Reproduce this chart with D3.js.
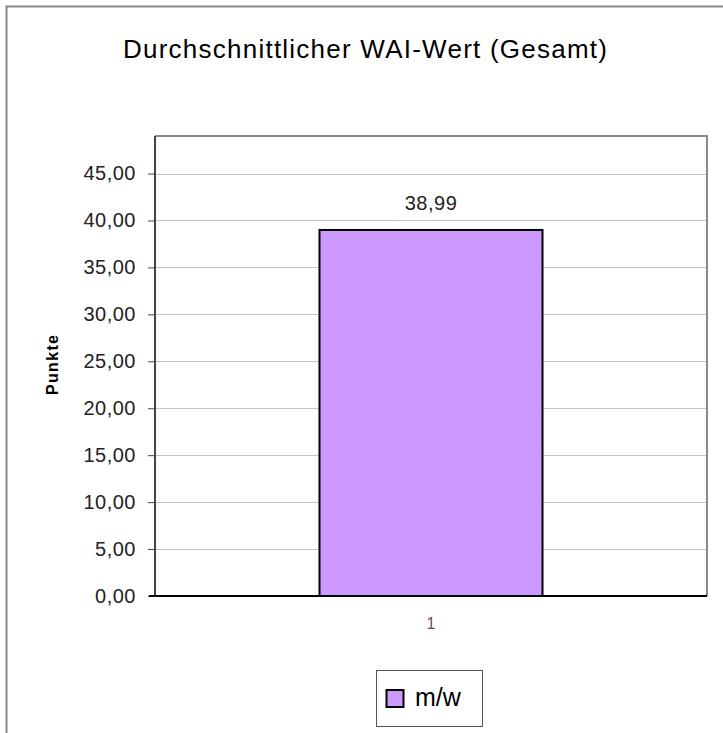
<!DOCTYPE html>
<html>
<head>
<meta charset="utf-8">
<script src="https://cdn.jsdelivr.net/npm/d3@7"></script>
<style>
  body { margin: 0; background: #fff; }
  svg { display: block; }
</style>
</head>
<body>
<svg class="chart" width="723" height="733"></svg>
<script>
// chart data
var categories = ["1"];
var values = [38.99];
var seriesName = "m/w";
var yTicks = [0, 5, 10, 15, 20, 25, 30, 35, 40, 45];
var yMax = 49;

var svg = d3.select(".chart");
var font = "Arial, 'Liberation Sans', sans-serif";
var fmt = function (v) { return d3.format(".2f")(v).replace(".", ","); };

// outer chart border (runs off the right and bottom of the picture)
svg.append("rect")
    .attr("x", 6.5).attr("y", 6.5)
    .attr("width", 760).attr("height", 760)
    .attr("fill", "#fff")
    .attr("stroke", "#888")
    .attr("stroke-width", 2);

svg.append("text")
    .attr("x", 123)
    .attr("y", 58)
    .attr("font-family", font)
    .attr("font-size", "26px")
    .attr("textLength", 484)
    .attr("lengthAdjust", "spacing")
    .attr("fill", "#000")
    .text("Durchschnittlicher WAI-Wert (Gesamt)");

var plot = { left: 155, top: 136, right: 707, bottom: 596 };

var x = d3.scaleBand()
    .domain(categories)
    .range([plot.left, plot.right])
    .paddingInner(0.596)
    .paddingOuter(0.294);

var y = d3.scaleLinear()
    .domain([0, yMax])
    .range([plot.bottom, plot.top]);

// gridlines
svg.selectAll(".grid")
    .data(yTicks.filter(function (d) { return d > 0; }))
    .enter().append("line")
    .attr("class", "grid")
    .attr("x1", plot.left).attr("x2", plot.right)
    .attr("y1", function (d) { return Math.round(y(d)) + 0.5; })
    .attr("y2", function (d) { return Math.round(y(d)) + 0.5; })
    .attr("stroke", "#c4c4c4")
    .attr("stroke-width", 1);

// plot area top + right border
svg.append("path")
    .attr("d", "M" + plot.left + "," + plot.top + "H" + plot.right + "V" + plot.bottom)
    .attr("fill", "none")
    .attr("stroke", "#888")
    .attr("stroke-width", 2);

// bar
svg.selectAll(".bar")
    .data(values)
    .enter().append("rect")
    .attr("class", "bar")
    .attr("x", function (d, i) { return x(categories[i]); })
    .attr("y", function (d) { return y(d); })
    .attr("width", x.bandwidth())
    .attr("height", function (d) { return plot.bottom - y(d); })
    .attr("fill", "#CC99FF")
    .attr("stroke", "#000")
    .attr("stroke-width", 2);

// value label
svg.selectAll(".val")
    .data(values)
    .enter().append("text")
    .attr("class", "val")
    .attr("x", function (d, i) { return x(categories[i]) + x.bandwidth() / 2; })
    .attr("y", function (d) { return y(d) - 20; })
    .attr("text-anchor", "middle")
    .attr("font-family", font)
    .attr("font-size", "20px")
    .attr("letter-spacing", "0.5px")
    .attr("fill", "#222")
    .text(function (d) { return fmt(d); });

// y axis
var yAxis = svg.append("g")
    .attr("transform", "translate(" + plot.left + ",0)")
    .call(d3.axisLeft(y).tickValues(yTicks).tickSize(7).tickPadding(12).tickFormat(fmt));
yAxis.select(".domain")
    .attr("d", "M0," + plot.top + "V" + plot.bottom)
    .attr("stroke", "#444")
    .attr("stroke-width", 2);
yAxis.selectAll(".tick line").attr("stroke", "#444");
yAxis.selectAll("text")
    .attr("font-family", font)
    .attr("font-size", "20px")
    .attr("letter-spacing", "0.5px")
    .attr("fill", "#222");

// x axis
var xAxis = svg.append("g")
    .attr("transform", "translate(0," + plot.bottom + ")")
    .call(d3.axisBottom(x).tickSize(0).tickPadding(22));
xAxis.select(".domain")
    .attr("d", "M" + (plot.left - 6) + ",0H" + plot.right)
    .attr("stroke", "#000")
    .attr("stroke-width", 2);
xAxis.selectAll("text")
    .attr("font-family", font)
    .attr("font-size", "16px")
    .attr("fill", "#555");

// y axis title
svg.append("text")
    .attr("transform", "translate(58,365) rotate(-90)")
    .attr("text-anchor", "middle")
    .attr("font-family", font)
    .attr("font-size", "16px")
    .attr("font-weight", "bold")
    .attr("textLength", 60)
    .attr("lengthAdjust", "spacing")
    .attr("fill", "#000")
    .text("Punkte");

// legend
var legend = svg.append("g").attr("transform", "translate(376,670)");
legend.append("rect")
    .attr("x", 0.5).attr("y", 0.5)
    .attr("width", 106).attr("height", 56)
    .attr("fill", "#fff")
    .attr("stroke", "#555")
    .attr("stroke-width", 1);
legend.append("rect")
    .attr("x", 10.5).attr("y", 20)
    .attr("width", 17).attr("height", 17)
    .attr("fill", "#CC99FF")
    .attr("stroke", "#000")
    .attr("stroke-width", 2);
legend.append("text")
    .attr("x", 39)
    .attr("y", 36)
    .attr("font-family", font)
    .attr("font-size", "25px")
    .attr("fill", "#000")
    .text(seriesName);
</script>
</body>
</html>
